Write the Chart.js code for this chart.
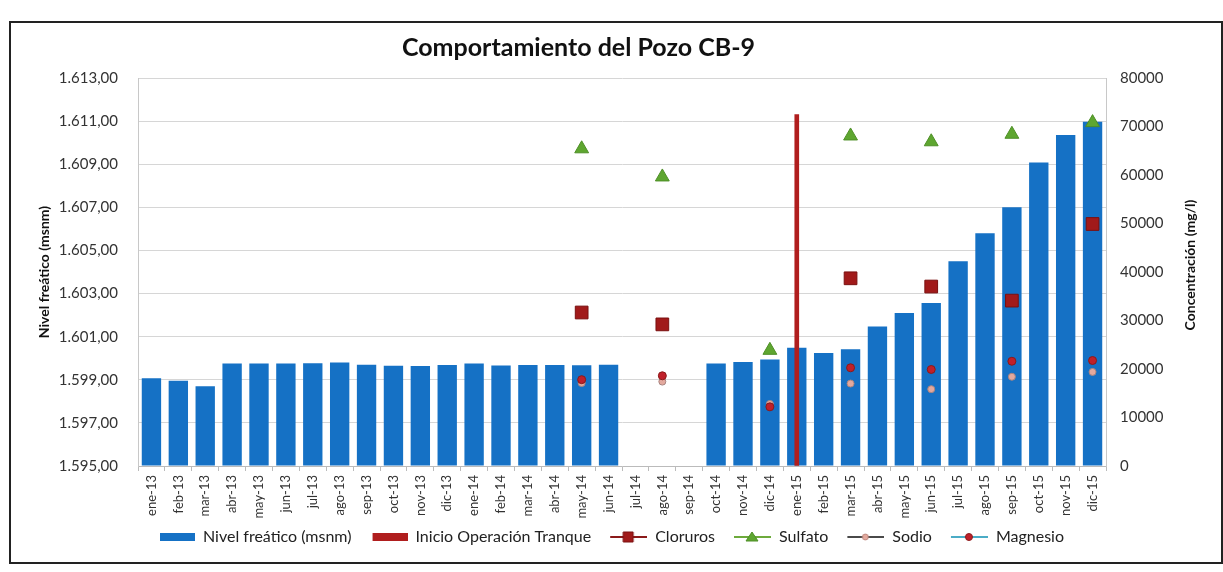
<!DOCTYPE html>
<html>
<head>
<meta charset="utf-8">
<script src="https://cdn.jsdelivr.net/npm/chart.js@4.4.0/dist/chart.umd.min.js"></script>
<style>
  html, body { margin: 0; padding: 0; background: #fff; }
  #wrap { position: absolute; left: 0; top: 0; width: 1223px; height: 572px; }
</style>
</head>
<body>
<div id="wrap"><canvas id="PozoChart" width="1223" height="572"></canvas></div>
<script>
// datos
const meses = ['ene-13', 'feb-13', 'mar-13', 'abr-13', 'may-13', 'jun-13', 'jul-13', 'ago-13', 'sep-13', 'oct-13', 'nov-13', 'dic-13',
  'ene-14', 'feb-14', 'mar-14', 'abr-14', 'may-14', 'jun-14', 'jul-14', 'ago-14', 'sep-14', 'oct-14', 'nov-14', 'dic-14',
  'ene-15', 'feb-15', 'mar-15', 'abr-15', 'may-15', 'jun-15', 'jul-15', 'ago-15', 'sep-15', 'oct-15', 'nov-15', 'dic-15'];

const nivelFreatico = [1599.07, 1598.95, 1598.70, 1599.75, 1599.76, 1599.75, 1599.77, 1599.80, 1599.70, 1599.65, 1599.64, 1599.69,
  1599.76, 1599.66, 1599.68, 1599.68, 1599.67, 1599.70, null, null, null, 1599.76, 1599.83, 1599.94,
  1600.49, 1600.24, 1600.42, 1601.47, 1602.10, 1602.56, 1604.50, 1605.80, 1607.00, 1609.08, 1610.35, 1610.97];

const inicioTranque = [null, null, null, null, null, null, null, null, null, null, null, null,
  null, null, null, null, null, null, null, null, null, null, null, null,
  1611.3, null, null, null, null, null, null, null, null, null, null, null];

const cloruros = [null, null, null, null, null, null, null, null, null, null, null, null,
  null, null, null, null, 31650, null, null, 29200, null, null, null, null,
  null, null, 38700, null, null, 37000, null, null, 34100, null, null, 49900];

const sulfato = [null, null, null, null, null, null, null, null, null, null, null, null,
  null, null, null, null, 65400, null, null, 59600, null, null, null, 23850,
  null, null, 68050, null, null, 66850, null, null, 68400, null, null, 70800];

const sodio = [null, null, null, null, null, null, null, null, null, null, null, null,
  null, null, null, null, 17100, null, null, 17400, null, null, null, 12800,
  null, null, 17000, null, null, 15850, null, null, 18400, null, null, 19400];

const magnesio = [null, null, null, null, null, null, null, null, null, null, null, null,
  null, null, null, null, 17800, null, null, 18600, null, null, null, 12200,
  null, null, 20250, null, null, 19900, null, null, 21600, null, null, 21750];

const fuente = 'Lato, "Open Sans", sans-serif';

function formatoNivel(v) {
  const s = v.toFixed(2).split('.');
  const ent = s[0].replace(/\B(?=(\d{3})+(?!\d))/g, '.');
  return ent + ',' + s[1];
}

// iconos de la leyenda (46 px de ancho, dibujo a la derecha)
function iconoBarra(color) {
  const c = document.createElement('canvas');
  c.width = 46; c.height = 10;
  const g = c.getContext('2d');
  g.fillStyle = color;
  g.fillRect(11, 1, 35, 8);
  return c;
}

function iconoLinea(colorLinea, marca, colorMarca, borde) {
  const c = document.createElement('canvas');
  c.width = 46; c.height = 14;
  const g = c.getContext('2d');
  g.strokeStyle = colorLinea;
  g.lineWidth = 2;
  g.beginPath(); g.moveTo(9, 7); g.lineTo(46, 7); g.stroke();
  g.fillStyle = colorMarca;
  g.strokeStyle = borde;
  g.lineWidth = 1;
  g.beginPath();
  if (marca === 'rect') {
    g.rect(22, 2, 10, 10);
  } else if (marca === 'triangle') {
    g.moveTo(27, 2); g.lineTo(33, 11); g.lineTo(21, 11); g.closePath();
  } else {
    g.arc(27, 7, marca === 'small' ? 3 : 3.5, 0, Math.PI * 2);
  }
  g.fill(); g.stroke();
  return c;
}

const iconos = [
  iconoBarra('#1571C5'),
  iconoBarra('#B01E1E'),
  iconoLinea('#8B1A1A', 'rect', '#A11A1A', '#7A1010'),
  iconoLinea('#6DAA3C', 'triangle', '#5EA630', '#4E8F27'),
  iconoLinea('#4A4A4A', 'small', '#E3A99E', '#C08A80'),
  iconoLinea('#4BACC6', 'circle', '#C0202A', '#8B1A1A')
];

const moverBloques = {
  id: 'moverBloques',
  afterLayout(chart) {
    const t = chart.titleBlock;
    if (t) { t.left -= 46; t.right -= 46; }
    const l = chart.legend;
    if (l) { l.left -= 18; l.right -= 18; }
  }
};

const extras = {
  id: 'extras',
  afterDraw(chart) {
    const ctx = chart.ctx;
    ctx.save();
    // titulo eje derecho (leido de abajo hacia arriba)
    ctx.translate(1190, 265);
    ctx.rotate(-Math.PI / 2);
    ctx.font = 'bold 14px ' + fuente;
    ctx.fillStyle = '#111';
    ctx.textAlign = 'center';
    ctx.textBaseline = 'middle';
    ctx.fillText('Concentración (mg/l)', 0, 0);
    ctx.restore();
    // marco
    ctx.save();
    ctx.strokeStyle = '#222';
    ctx.lineWidth = 2;
    ctx.strokeRect(10, 22, 1212, 541);
    ctx.restore();
  }
};

const ctx = document.getElementById('PozoChart');

new Chart(ctx, {
  data: {
    labels: meses,
    datasets: [{
      type: 'bar',
      label: 'Nivel freático (msnm)',
      data: nivelFreatico,
      backgroundColor: '#1571C5',
      yAxisID: 'y',
      grouped: false,
      categoryPercentage: 1,
      barPercentage: 0.72,
      base: 1595,
      order: 3
    }, {
      type: 'bar',
      label: 'Inicio Operación Tranque',
      data: inicioTranque,
      backgroundColor: '#B01E1E',
      yAxisID: 'y',
      grouped: false,
      barThickness: 4,
      base: 1595,
      order: 2
    }, {
      type: 'line',
      label: 'Cloruros',
      data: cloruros,
      yAxisID: 'y2',
      borderColor: '#8B1A1A',
      backgroundColor: '#A11A1A',
      pointStyle: 'rect',
      pointRadius: 9,
      pointBorderColor: '#7A1010',
      pointBorderWidth: 1,
      spanGaps: false,
      order: 1
    }, {
      type: 'line',
      label: 'Sulfato',
      data: sulfato,
      yAxisID: 'y2',
      borderColor: '#6DAA3C',
      backgroundColor: '#5EA630',
      pointStyle: 'triangle',
      pointRadius: 8,
      pointBorderColor: '#4E8F27',
      pointBorderWidth: 1,
      spanGaps: false,
      order: 1
    }, {
      type: 'line',
      label: 'Sodio',
      data: sodio,
      yAxisID: 'y2',
      borderColor: '#4A4A4A',
      backgroundColor: '#E3A99E',
      pointStyle: 'circle',
      pointRadius: 3.5,
      pointBorderColor: '#A88480',
      pointBorderWidth: 1,
      spanGaps: false,
      order: 1
    }, {
      type: 'line',
      label: 'Magnesio',
      data: magnesio,
      yAxisID: 'y2',
      borderColor: '#4BACC6',
      backgroundColor: '#C0202A',
      pointStyle: 'circle',
      pointRadius: 4,
      pointBorderColor: '#8B1A1A',
      pointBorderWidth: 1,
      spanGaps: false,
      order: 0
    }]
  },
  options: {
    responsive: false,
    animation: false,
    layout: { padding: { left: 34, right: 8, top: 22, bottom: 17 } },
    plugins: {
      title: {
        display: true,
        text: 'Comportamiento del Pozo CB-9',
        color: '#111',
        font: { family: fuente, size: 25, weight: 'bold' },
        padding: { top: 11, bottom: 15 }
      },
      legend: {
        position: 'bottom',
        labels: {
          usePointStyle: true,
          pointStyleWidth: 46,
          boxHeight: 12,
          padding: 10,
          color: '#222',
          font: { family: fuente, size: 16 },
          generateLabels(chart) {
            return chart.data.datasets.map((ds, i) => ({
              text: ds.label,
              pointStyle: iconos[i],
              fillStyle: 'transparent',
              strokeStyle: 'transparent',
              lineWidth: 0,
              fontColor: '#222',
              datasetIndex: i,
              hidden: false
            }));
          }
        }
      },
      tooltip: { enabled: false }
    },
    scales: {
      x: {
        offset: true,
        afterFit(scale) { scale.height = 53; },
        grid: { offset: true, drawOnChartArea: false, drawTicks: true, tickLength: 5, color: '#bbb' },
        border: { color: '#bbb' },
        ticks: {
          autoSkip: false,
          minRotation: 90,
          maxRotation: 90,
          padding: 4,
          color: '#333',
          font: { family: fuente, size: 13 }
        }
      },
      y: {
        position: 'left',
        min: 1595,
        max: 1613,
        afterFit(scale) { scale.width = 104; },
        grid: { color: '#d6d6d6', drawTicks: false },
        border: { color: '#c8c8c8' },
        title: {
          display: true,
          text: 'Nivel freático (msnm)',
          color: '#111',
          font: { family: fuente, size: 14, weight: 'bold' },
          padding: { top: 2, bottom: 2 }
        },
        ticks: {
          stepSize: 2,
          padding: 20,
          color: '#333',
          font: { family: fuente, size: 15 },
          callback: (v) => formatoNivel(v)
        }
      },
      y2: {
        position: 'right',
        min: 0,
        max: 80000,
        afterFit(scale) { scale.width = 109; },
        grid: { display: false, drawTicks: false },
        border: { color: '#c8c8c8' },
        ticks: {
          stepSize: 10000,
          padding: 14,
          color: '#333',
          font: { family: fuente, size: 15 },
          callback: (v) => String(v)
        }
      }
    }
  },
  plugins: [moverBloques, extras]
});
</script>
</body>
</html>
